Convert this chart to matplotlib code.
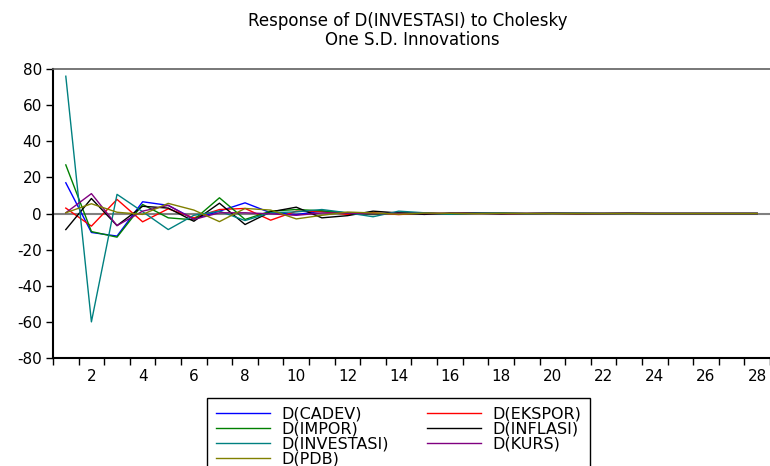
import numpy as np
import matplotlib
matplotlib.use("Agg")
import matplotlib.pyplot as plt

plt.rcParams["font.family"] = ["DejaVu Sans"]
plt.rcParams["axes.unicode_minus"] = False

# impulse responses of D(INVESTASI), periods 1..28
periods = np.arange(1, 29)
cadev = [17, -10.5, -12.5, 6.5, 4.5, -3, 1.3, 5.9, 0.4, -0.6, 1.3, 0.3, -0.4, 0.5,
         0.2, -0.2, 0.1, 0.2, -0.1, 0.1, 0.1, 0, 0.1, 0, 0, 0, 0, 0]
ekspor = [3, -7, 7.8, -4.6, 2.6, -2.4, 2.2, 2.8, -3.7, 1.3, 1.0, -0.5, 0.4, -0.6,
          0.3, -0.2, 0.2, 0, -0.1, 0.1, 0, 0, 0.1, 0, 0, 0, 0, 0]
impor = [26.9, -10, -13.1, 5, -2.4, -3.5, 8.7, -3.3, 1.3, 2.2, 1.5, 0.3, -0.6, 0.5,
         0.2, -0.3, 0.1, 0.2, -0.1, 0, 0.1, 0, 0, 0, 0, 0, 0, 0]
inflasi = [-8.9, 8.3, -6.7, 4, 3, -4.3, 5.7, -6.1, 0.9, 3.5, -2.4, -1.2, 1.3, 0.3,
           -0.5, 0.3, 0.2, -0.2, 0.1, 0.1, -0.1, 0, 0.1, 0, 0, 0, 0, 0]
investasi = [76, -60, 10.6, 1, -8.9, -1, 1.3, -3.9, 0.4, 0.9, 2.2, 0.4, -1.8, 1.3,
             0.4, -0.4, 0.2, 0.3, -0.1, 0.1, 0.1, 0, 0, 0, 0, 0, 0, 0]
kurs = [0.4, 11, -6.7, 1.3, 4.5, -3.3, 0.4, 0.4, -0.2, -1.0, 0.3, 0.2, -0.2, 0.1,
        0, 0.1, 0, 0, 0, 0, 0, 0, 0, 0, 0, 0, 0, 0]
pdb = [0.4, 5.4, 0.7, -0.5, 5.6, 1.9, -4.5, 2.8, 1.9, -3.0, -1.0, 0.8, 0.3, -0.4,
       0.2, 0.1, -0.1, 0.1, 0, 0, 0, 0, 0, 0, 0, 0, 0, 0]

series = [
    ("D(CADEV)", cadev, "#0000ff"),
    ("D(EKSPOR)", ekspor, "#ff0000"),
    ("D(IMPOR)", impor, "#008000"),
    ("D(INFLASI)", inflasi, "#000000"),
    ("D(INVESTASI)", investasi, "#008080"),
    ("D(KURS)", kurs, "#800080"),
    ("D(PDB)", pdb, "#808000"),
]

fig = plt.figure(figsize=(7.7, 4.66), dpi=100)
ax = fig.add_axes([53 / 770, 1 - 358 / 466, 1 - 53 / 770, (358 - 69) / 466])

ax.axhline(0, color="#808080", lw=1.5, zorder=1)
lines = {}
for name, vals, col in series:
    (ln,) = ax.plot(periods, vals, color=col, lw=1.0, label=name, zorder=2)
    lines[name] = ln

ax.set_xlim(0.5, 28.5)
ax.set_ylim(-80, 80)
ax.set_yticks(np.arange(-80, 81, 20))
ax.set_xticks(np.arange(2, 29, 2))
ax.set_xticks(np.arange(0.5, 28.6, 1), minor=True)
ax.tick_params(axis="x", which="major", length=0, pad=8, labelsize=11)
ax.tick_params(axis="x", which="minor", length=5, width=1, direction="out")
ax.tick_params(axis="y", length=5, width=1, labelsize=11, pad=3)

for side in ["left", "bottom"]:
    ax.spines[side].set_linewidth(1.5)
ax.spines["top"].set_color("#606060")
ax.spines["top"].set_linewidth(1.2)
ax.spines["right"].set_visible(False)

fig.text(408 / 770, 1 - 21 / 466, "Response of D(INVESTASI) to Cholesky",
         ha="center", va="center", fontsize=12)
fig.text(412 / 770, 1 - 40 / 466, "One S.D. Innovations",
         ha="center", va="center", fontsize=12)

order = ["D(CADEV)", "D(IMPOR)", "D(INVESTASI)", "D(PDB)",
         "D(EKSPOR)", "D(INFLASI)", "D(KURS)"]
leg = fig.legend([lines[n] for n in order], order, loc="upper left",
                 bbox_to_anchor=(207 / 770, 1 - 398 / 466), borderaxespad=0,
                 ncol=2, fontsize=11.5, frameon=True, fancybox=False, framealpha=1,
                 edgecolor="black", handlelength=3.4, labelspacing=0.0,
                 columnspacing=2.4, borderpad=0.55, handletextpad=0.7)
leg.get_frame().set_linewidth(1.0)

fig.savefig("out.png", dpi=100)
